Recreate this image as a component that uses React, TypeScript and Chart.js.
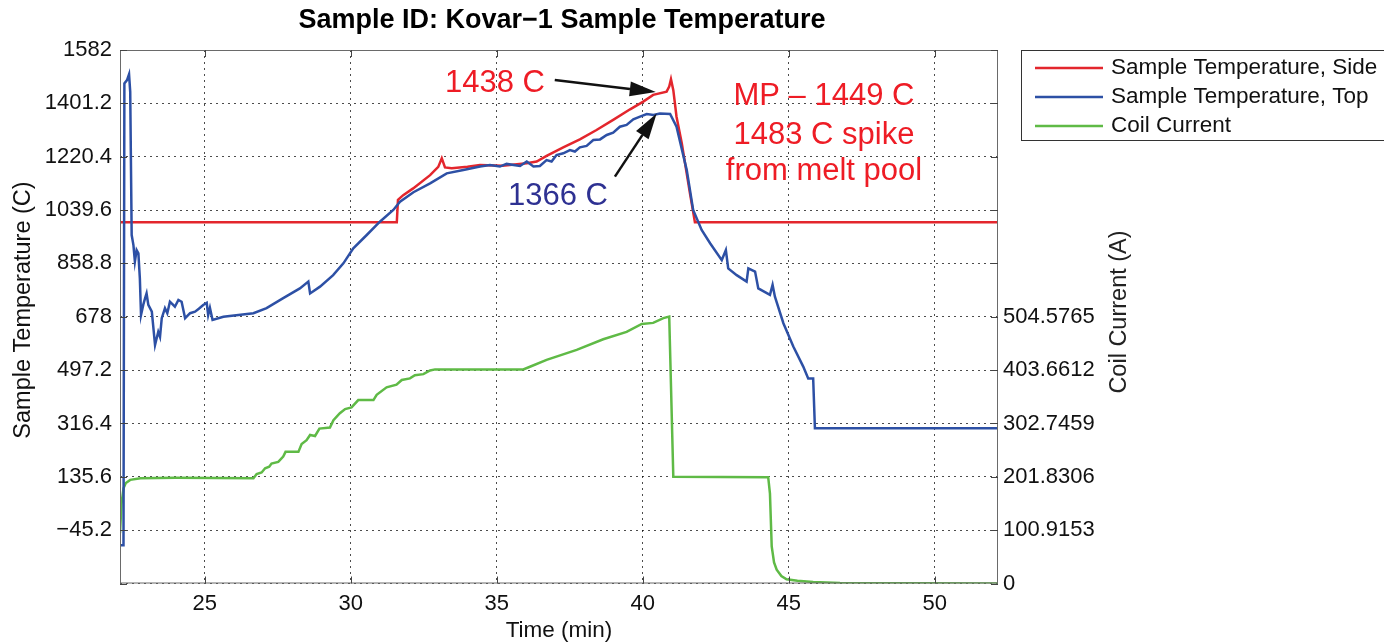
import React, { useEffect, useRef } from 'react';
import { Chart, registerables } from 'chart.js';

Chart.register(...registerables);

// ---- data (time in minutes) ----
const SIDE_TIME = [22.1, 31.58, 31.62, 31.8, 32.14, 32.72, 33.0, 33.12, 33.23, 33.46, 34.0, 34.43, 35.2, 36.03, 36.37, 36.71, 37.28, 37.85, 38.42, 38.99, 39.57, 40.02, 40.36, 40.82, 40.91, 40.97, 41.05, 41.16, 41.34, 41.62, 41.79, 52.17];
const SIDE_TEMP = [998, 998, 1074, 1090, 1113, 1158, 1186, 1215, 1184, 1181, 1186, 1192, 1190, 1198, 1204, 1223, 1252, 1279, 1311, 1345, 1381, 1407, 1430, 1441, 1458, 1483, 1446, 1356, 1266, 1096, 998, 998];

const TOP_TIME = [22.1, 22.22, 22.25, 22.34, 22.41, 22.45, 22.5, 22.56, 22.61, 22.67, 22.73, 22.78, 22.82, 22.9, 22.96, 23.01, 23.07, 23.19, 23.3, 23.41, 23.47, 23.53, 23.64, 23.72, 23.81, 23.98, 24.1, 24.21, 24.33, 24.5, 24.67, 24.8, 24.95, 25.07, 25.12, 25.18, 25.27, 25.64, 26.67, 27.12, 27.69, 28.26, 28.55, 28.61, 28.95, 29.4, 29.75, 30.09, 30.55, 31.0, 31.46, 31.69, 32.15, 32.72, 33.29, 33.86, 34.43, 34.77, 35.11, 35.34, 35.8, 36.03, 36.26, 36.48, 36.71, 36.88, 37.05, 37.28, 37.51, 37.68, 37.85, 38.08, 38.31, 38.54, 38.77, 38.99, 39.22, 39.45, 39.68, 39.91, 40.14, 40.37, 40.59, 40.94, 41.16, 41.51, 41.73, 42.02, 42.31, 42.71, 42.85, 42.93, 43.22, 43.56, 43.62, 43.85, 43.96, 44.36, 44.45, 44.53, 44.82, 45.16, 45.5, 45.67, 45.84, 45.9, 52.17];
const TOP_TEMP = [-96, -96, 1469, 1480, 1500, 1440, 955, 921, 865, 904, 893, 808, 684, 720, 741, 757, 718, 695, 582, 627, 610, 673, 707, 690, 729, 712, 735, 729, 673, 690, 695, 705, 718, 725, 684, 708, 667, 678, 690, 707, 741, 774, 797, 757, 780, 819, 859, 910, 955, 1000, 1040, 1068, 1100, 1130, 1164, 1175, 1187, 1192, 1187, 1196, 1189, 1204, 1187, 1189, 1209, 1204, 1226, 1232, 1243, 1238, 1252, 1257, 1277, 1279, 1294, 1302, 1322, 1328, 1347, 1356, 1365, 1362, 1367, 1365, 1322, 1175, 1040, 972, 927, 870, 904, 842, 819, 797, 842, 831, 774, 752, 786, 746, 656, 577, 509, 469, 469, 300, 300];

const COIL_TIME = [22.1, 22.15, 22.22, 22.3, 22.45, 22.8, 24.0, 26.67, 26.78, 26.95, 27.07, 27.21, 27.29, 27.52, 27.69, 27.77, 28.21, 28.32, 28.49, 28.61, 28.78, 28.93, 29.29, 29.41, 29.63, 29.81, 30.03, 30.26, 30.78, 30.89, 31.23, 31.57, 31.75, 32.03, 32.2, 32.49, 32.72, 32.89, 35.91, 36.14, 36.71, 37.74, 38.65, 39.45, 39.97, 40.36, 40.71, 40.91, 41.05, 44.3, 44.36, 44.42, 44.5, 44.59, 44.75, 44.93, 45.3, 45.84, 46.76, 52.17];
const COIL_CURRENT = [95, 150, 180, 190, 196, 199, 200, 199, 207, 210, 218, 221, 227, 230, 240, 249, 249, 264, 271, 281, 279, 293, 295, 309, 322, 330, 333, 347, 347, 357, 371, 376, 385, 388, 394, 396, 403, 405, 405, 410, 423, 442, 462, 476, 491, 493, 502, 505, 202, 201, 170, 70, 40, 26, 14, 8, 5, 3, 1, 0];

const SERIES_LABELS = ['Sample Temperature, Side', 'Sample Temperature, Top', 'Coil Current'];

// ---- axes ----
const X_MIN = 22.1;
const X_MAX = 52.17;
const X_TICKS = [25, 30, 35, 40, 45, 50];
const LEFT_MIN = -226;
const LEFT_MAX = 1582;
const LEFT_TICKS = [-226, -45.2, 135.6, 316.4, 497.2, 678, 858.8, 1039.6, 1220.4, 1401.2, 1582];
const LEFT_TICK_LABELS = ['', '\u221245.2', '135.6', '316.4', '497.2', '678', '858.8', '1039.6', '1220.4', '1401.2', '1582'];
const RIGHT_MIN = 0;
const RIGHT_MAX = 1009.153;
const RIGHT_TICKS = [0, 100.9153, 201.8306, 302.7459, 403.6612, 504.5765];
const RIGHT_TICK_LABELS = ['0', '100.9153', '201.8306', '302.7459', '403.6612', '504.5765'];

// ---- annotations (anchored in data units) ----
const NOTE_TEXT = ['1438 C', '1366 C', 'MP \u2013 1449 C', '1483 C spike', 'from melt pool'];
const NOTE_TIME = [34.94, 37.1, 46.21, 46.21, 46.21];
const NOTE_TEMP = [1467, 1087, 1423, 1294, 1172];
const NOTE_IS_RED = [true, false, true, true, true];
const ARROW_FROM_TIME = [36.99, 39.05];
const ARROW_FROM_TEMP = [1480, 1153];
const ARROW_TO_TIME = [40.45, 40.48];
const ARROW_TO_TEMP = [1440, 1367];

const RED = '#e3262d';
const BLUE = '#2d50a5';
const GREEN = '#5fba46';
const RED_TEXT = '#ee1c25';
const BLUE_TEXT = '#2e3192';
const FONT = '"Liberation Sans", Arial, Helvetica, sans-serif';

const toPoints = (xs: number[], ys: number[]) => xs.map((x, i) => ({ x, y: ys[i] }));

const decorPlugin = {
  id: 'decor',
  afterDatasetsDraw(chart: any) {
    const { ctx, chartArea } = chart;
    const { left, right, top, bottom } = chartArea;
    const xs = chart.scales.x;
    const ys = chart.scales.y;
    ctx.save();
    ctx.strokeStyle = '#6a6a6a';
    ctx.lineWidth = 1;
    ctx.setLineDash([]);
    ctx.strokeRect(left + 0.5, top + 0.5, right - left - 1, bottom - top - 1);
    ctx.strokeStyle = '#444';
    ctx.beginPath();
    X_TICKS.forEach((v) => {
      const px = Math.round(xs.getPixelForValue(v)) + 0.5;
      ctx.moveTo(px, bottom);
      ctx.lineTo(px, bottom - 7);
      ctx.moveTo(px, top);
      ctx.lineTo(px, top + 7);
    });
    LEFT_TICKS.forEach((v) => {
      const py = Math.round(ys.getPixelForValue(v)) + 0.5;
      ctx.moveTo(left, py);
      ctx.lineTo(left + 7, py);
      ctx.moveTo(right, py);
      ctx.lineTo(right - 7, py);
    });
    ctx.stroke();
    ctx.restore();
  },
  afterDraw(chart: any) {
    const { ctx, chartArea } = chart;
    const xs = chart.scales.x;
    const ys = chart.scales.y;
    ctx.save();
    // title
    ctx.fillStyle = '#000';
    ctx.font = `bold 27px ${FONT}`;
    ctx.textAlign = 'center';
    ctx.textBaseline = 'middle';
    ctx.fillText('Sample ID: Kovar\u22121 Sample Temperature', (chartArea.left + chartArea.right) / 2 + 3, 21);

    // left axis title
    ctx.save();
    ctx.translate(24, 310);
    ctx.rotate(-Math.PI / 2);
    ctx.font = `23.5px ${FONT}`;
    ctx.fillStyle = '#111';
    ctx.fillText('Sample Temperature (C)', 0, 0);
    ctx.restore();

    // right axis title
    ctx.save();
    ctx.translate(chartArea.right + 122, 312);
    ctx.rotate(-Math.PI / 2);
    ctx.font = `23.5px ${FONT}`;
    ctx.fillStyle = '#222';
    ctx.fillText('Coil Current (A)', 0, 0);
    ctx.restore();

    // legend
    const lx = 1021.5;
    const ly = 50.5;
    ctx.fillStyle = '#fff';
    ctx.fillRect(lx, ly, 400, 90);
    ctx.strokeStyle = '#333';
    ctx.lineWidth = 1;
    ctx.strokeRect(lx, ly, 400, 90);
    ctx.font = `22.5px ${FONT}`;
    ctx.textAlign = 'left';
    chart.data.datasets.forEach((ds: any, i: number) => {
      const y = 68 + i * 29;
      ctx.strokeStyle = ds.borderColor;
      ctx.lineWidth = 2.5;
      ctx.beginPath();
      ctx.moveTo(1035, y);
      ctx.lineTo(1103, y);
      ctx.stroke();
      ctx.fillStyle = '#111';
      ctx.fillText(ds.label, 1111, y);
    });

    // annotations
    ctx.font = `31px ${FONT}`;
    ctx.textAlign = 'center';
    NOTE_TEXT.forEach((t, i) => {
      ctx.fillStyle = NOTE_IS_RED[i] ? RED_TEXT : BLUE_TEXT;
      ctx.fillText(t, xs.getPixelForValue(NOTE_TIME[i]), ys.getPixelForValue(NOTE_TEMP[i]));
    });

    // arrows
    ctx.strokeStyle = '#111';
    ctx.fillStyle = '#111';
    ctx.lineWidth = 2.5;
    ARROW_FROM_TIME.forEach((ft, i) => {
      const x1 = xs.getPixelForValue(ft);
      const y1 = ys.getPixelForValue(ARROW_FROM_TEMP[i]);
      const x2 = xs.getPixelForValue(ARROW_TO_TIME[i]);
      const y2 = ys.getPixelForValue(ARROW_TO_TEMP[i]);
      const ang = Math.atan2(y2 - y1, x2 - x1);
      const hl = 26;
      const hw = 7.5;
      const bx = x2 - hl * Math.cos(ang);
      const by = y2 - hl * Math.sin(ang);
      ctx.beginPath();
      ctx.moveTo(x1, y1);
      ctx.lineTo(bx, by);
      ctx.stroke();
      ctx.beginPath();
      ctx.moveTo(x2, y2);
      ctx.lineTo(bx + hw * Math.sin(ang), by - hw * Math.cos(ang));
      ctx.lineTo(bx - hw * Math.sin(ang), by + hw * Math.cos(ang));
      ctx.closePath();
      ctx.fill();
    });
    ctx.restore();
  },
};

export default function App() {
  const canvasRef = useRef<HTMLCanvasElement | null>(null);

  useEffect(() => {
    const canvas = canvasRef.current;
    if (!canvas) return;
    const gridColor = 'rgba(0,0,0,0.7)';
    const chart = new Chart(canvas, {
      type: 'line',
      data: {
        datasets: [
          { label: SERIES_LABELS[0], data: toPoints(SIDE_TIME, SIDE_TEMP), borderColor: RED, backgroundColor: RED, borderWidth: 2.5, pointRadius: 0, yAxisID: 'y', order: 2 },
          { label: SERIES_LABELS[1], data: toPoints(TOP_TIME, TOP_TEMP), borderColor: BLUE, backgroundColor: BLUE, borderWidth: 2.5, pointRadius: 0, yAxisID: 'y', order: 1 },
          { label: SERIES_LABELS[2], data: toPoints(COIL_TIME, COIL_CURRENT), borderColor: GREEN, backgroundColor: GREEN, borderWidth: 2.5, pointRadius: 0, yAxisID: 'y1', order: 3 },
        ],
      },
      options: {
        animation: false,
        responsive: false,
        devicePixelRatio: 1,
        layout: { padding: { top: 50, left: 0, right: 0, bottom: 0 } },
        plugins: { legend: { display: false }, tooltip: { enabled: false }, title: { display: false } },
        elements: { line: { tension: 0 } },
        scales: {
          x: {
            type: 'linear',
            min: X_MIN,
            max: X_MAX,
            afterBuildTicks: (s: any) => { s.ticks = X_TICKS.map((v) => ({ value: v })); },
            afterFit: (s: any) => { s.height = 60.5; },
            ticks: { autoSkip: false, maxRotation: 0, padding: 7, color: '#111', font: { size: 22, family: FONT }, callback: (v: any) => String(v) },
            grid: { color: gridColor, lineWidth: 1, drawTicks: false, tickLength: 0 },
            border: { display: false, dash: [2, 4] },
            title: { display: true, text: 'Time (min)', color: '#111', font: { size: 22.5, family: FONT }, padding: { top: 0, bottom: 0 } },
          },
          y: {
            type: 'linear',
            position: 'left',
            min: LEFT_MIN,
            max: LEFT_MAX,
            afterBuildTicks: (s: any) => { s.ticks = LEFT_TICKS.map((v) => ({ value: v })); },
            afterFit: (s: any) => { s.width = 120; },
            ticks: { autoSkip: false, padding: 8, color: '#111', font: { size: 22, family: FONT }, callback: (_v: any, i: number) => LEFT_TICK_LABELS[i] },
            grid: { color: gridColor, lineWidth: 1, drawTicks: false, tickLength: 0 },
            border: { display: false, dash: [2, 4] },
            title: { display: false },
          },
          y1: {
            type: 'linear',
            position: 'right',
            min: RIGHT_MIN,
            max: RIGHT_MAX,
            afterBuildTicks: (s: any) => { s.ticks = RIGHT_TICKS.map((v) => ({ value: v })); },
            afterFit: (s: any) => { s.width = 386; },
            ticks: { autoSkip: false, padding: 5, color: '#111', font: { size: 22, family: FONT }, callback: (_v: any, i: number) => RIGHT_TICK_LABELS[i] },
            grid: { display: false, drawTicks: false, tickLength: 0 },
            border: { display: false },
          },
        },
      },
      plugins: [decorPlugin],
    } as any);
    return () => chart.destroy();
  }, []);

  return (
    <div style={{ position: 'fixed', left: 0, top: 0, width: 1384, height: 644, background: '#fff' }}>
      <canvas ref={canvasRef} width={1384} height={644} style={{ display: 'block', width: 1384, height: 644 }} />
    </div>
  );
}
